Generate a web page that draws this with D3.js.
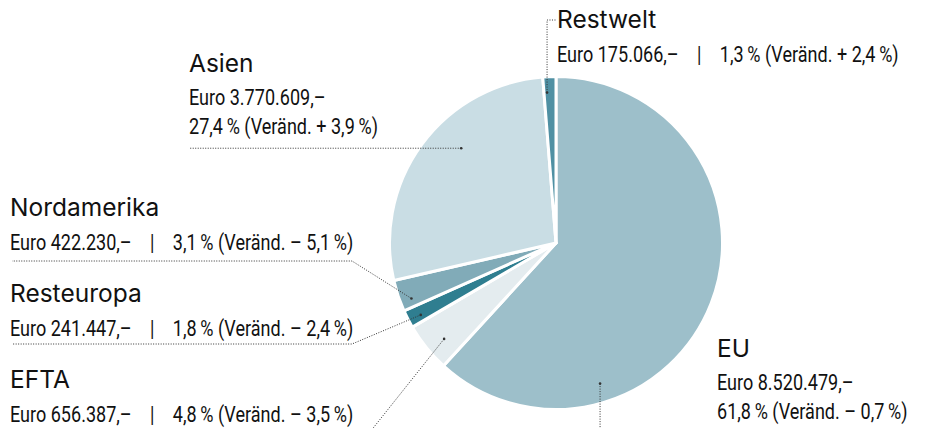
<!DOCTYPE html>
<html>
<head>
<meta charset="utf-8">
<script src="https://cdn.jsdelivr.net/npm/d3@7"></script>
<style>
  body { margin: 0; background: #fff; }
  .name { font-family: Inter, "Open Sans", sans-serif; font-size: 24.5px; fill: #111; }
  .detail { font-family: Roboto, "DejaVu Sans Condensed", sans-serif; font-size: 22px; fill: #111; }
  .leader { fill: none; stroke: #333; stroke-width: 1; stroke-dasharray: 1 1.5; }
</style>
</head>
<body>
<svg id="chart" width="927" height="428"></svg>
<script>
// Exportwerte nach Region (im Uhrzeigersinn ab 12 Uhr)
const regions = ["EU", "EFTA", "Resteuropa", "Nordamerika", "Asien", "Restwelt"];
const amounts = [8520479, 656387, 241447, 422230, 3770609, 175066];
const amountLabels = ["8.520.479", "656.387", "241.447", "422.230", "3.770.609", "175.066"];
const shares = ["61,8", "4,8", "1,8", "3,1", "27,4", "1,3"];
const changes = ["– 0,7", "– 3,5", "– 2,4", "– 5,1", "+ 3,9", "+ 2,4"];
const colors = ["#9dbfca", "#e4ecef", "#2f7e90", "#81abb8", "#c9dde4", "#4f90a3"];

const width = 927;
const height = 428;
const cx = 556, cy = 243, radius = 166.5;
const squeeze = 0.82; // condensed look for the detail lines

// label layout: text position, lines, leader anchor (deg, fraction of radius), leader route
const layout = {
  EU:          { x: 717, y: 357, twoLines: true,  anchor: [162.6, 0.885], route: "down" },
  EFTA:        { x: 10,  y: 388, twoLines: false, anchor: [229.4, 0.885], route: [[370, 432]] },
  Resteuropa:  { x: 10,  y: 302, twoLines: false, anchor: [242.0, 0.92],  route: [[352, 344], [12, 344]] },
  Nordamerika: { x: 10,  y: 216, twoLines: false, anchor: [249.0, 0.93],  route: [[352, 261], [12, 261]] },
  Asien:       { x: 189, y: 72,  twoLines: true,  anchor: [315.0, 0.805], route: "left" },
  Restwelt:    { x: 557, y: 28,  twoLines: false, anchor: [356.6, 0.905], route: "up" }
};

const data = regions.map((r, i) => ({
  region: r, amount: amounts[i], amountLabel: amountLabels[i],
  share: shares[i], change: changes[i], color: colors[i]
}));

const svg = d3.select("#chart");

const pie = d3.pie().sort(null).value(d => d.amount);
const arc = d3.arc().innerRadius(0).outerRadius(radius);

const g = svg.append("g").attr("transform", `translate(${cx},${cy})`);

g.selectAll("path.slice")
  .data(pie(data))
  .enter()
  .append("path")
  .attr("class", "slice")
  .attr("d", arc)
  .attr("fill", d => d.data.color)
  .attr("stroke", "#fff")
  .attr("stroke-width", 3)
  .attr("stroke-linejoin", "round");

function polar(deg, r) {
  const a = deg * Math.PI / 180;
  return [cx + r * Math.sin(a), cy - r * Math.cos(a)];
}

const thin = "\u2009";

// leader lines
data.forEach(d => {
  const L = layout[d.region];
  const p = polar(L.anchor[0], L.anchor[1] * radius);
  let pts;
  if (L.route === "down") pts = [p, [p[0], height]];
  else if (L.route === "left") pts = [p, [L.x, p[1]]];
  else if (L.route === "up") pts = [p, [p[0], 20], [L.x - 1, 20]];
  else pts = [p].concat(L.route);
  svg.append("path")
    .attr("class", "leader")
    .attr("d", d3.line()(pts));
  svg.append("circle")
    .attr("cx", p[0]).attr("cy", p[1])
    .attr("r", 1.3).attr("fill", "#333");
});

// detail line, squeezed horizontally to mimic the condensed face
function detail(parent, x, y, str) {
  parent.append("text")
    .attr("class", "detail")
    .attr("transform", `translate(${x},${y}) scale(${squeeze},1)`)
    .text(str);
}

// labels
data.forEach(d => {
  const L = layout[d.region];
  const t = svg.append("g");
  t.append("text").attr("class", "name").attr("x", L.x).attr("y", L.y).text(d.region);
  const euro = `Euro ${d.amountLabel},–`;
  const pct = `${d.share}${thin}% (Veränd. ${d.change}${thin}%)`;
  if (L.twoLines) {
    detail(t, L.x, L.y + 33, euro);
    detail(t, L.x, L.y + 62, pct);
  } else {
    detail(t, L.x, L.y + 34, `${euro}\u2002\u2002|\u2002\u2002${pct}`);
  }
});
</script>
</body>
</html>
